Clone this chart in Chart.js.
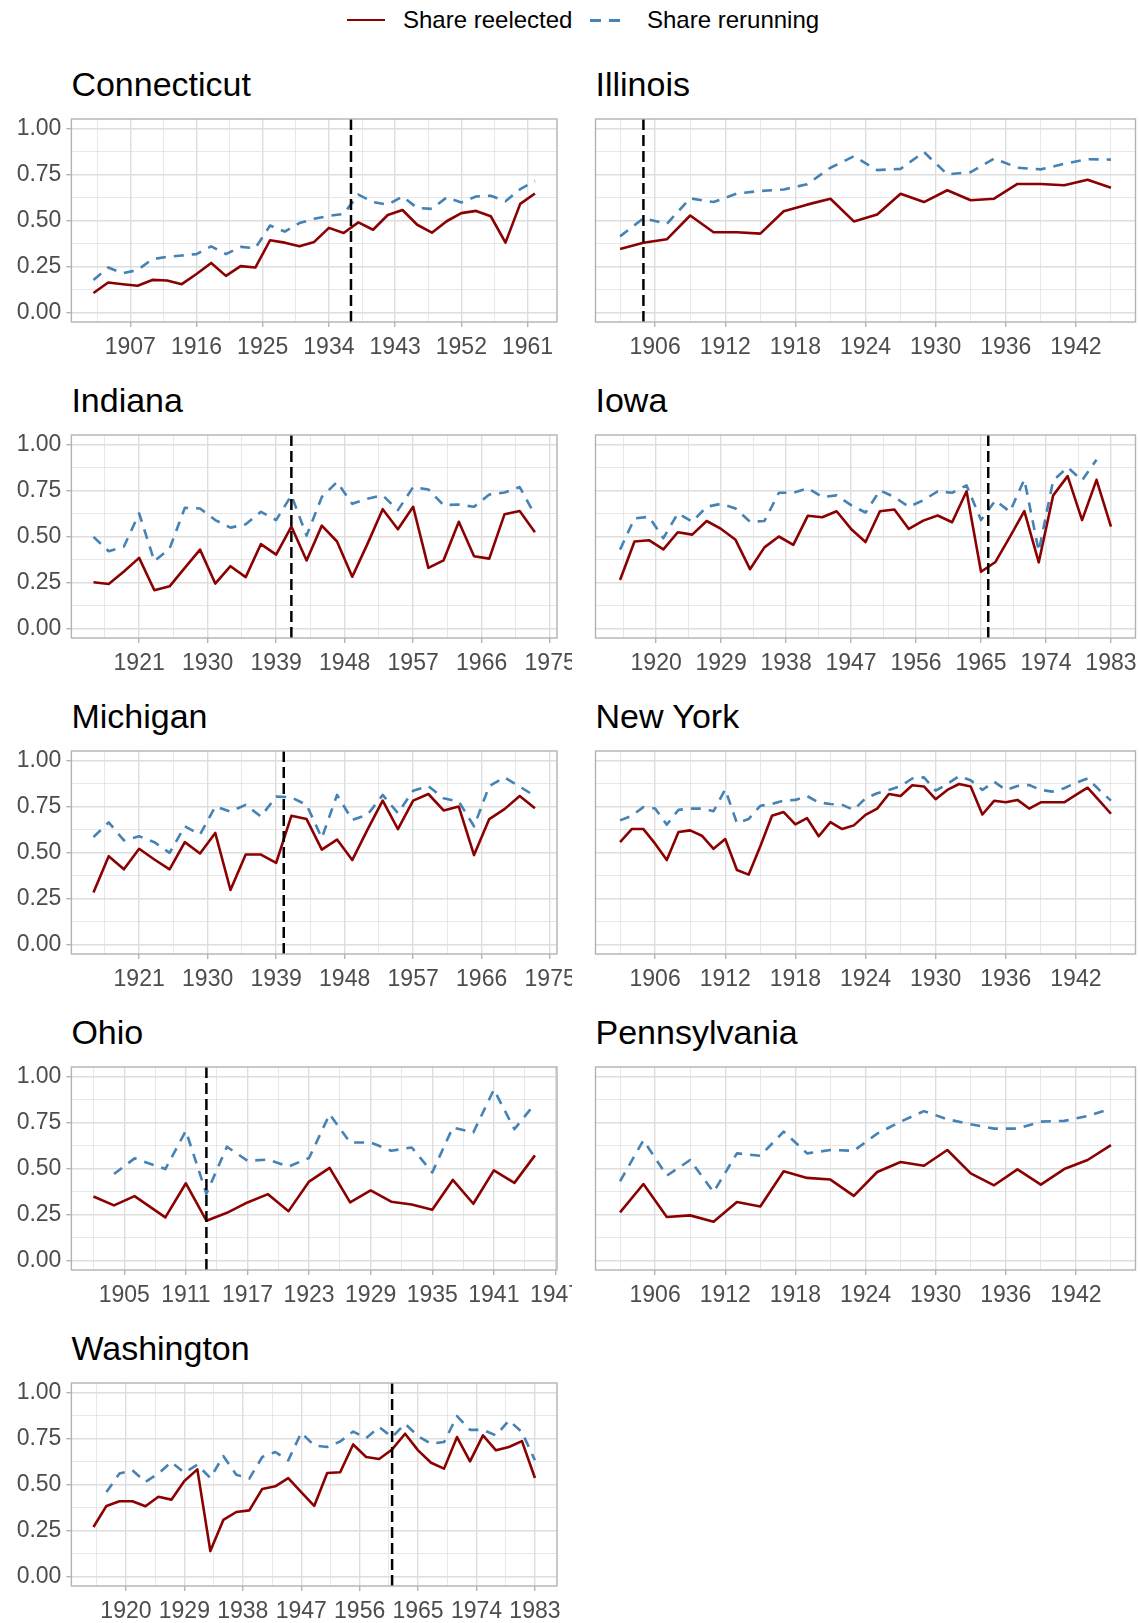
<!DOCTYPE html>
<html>
<head>
<meta charset="utf-8">
<script src="https://cdn.jsdelivr.net/npm/chart.js@4.4.1/dist/chart.umd.min.js"></script>
<style>
  body { margin: 0; background: #fff; width: 1140px; height: 1623px; position: relative; overflow: hidden;
         font-family: "Liberation Sans", Arial, sans-serif; }
  .panel { position: absolute; }
  .title { position: absolute; font-size: 34px; line-height: 34px; color: #000; white-space: nowrap; }
  .key { position: absolute; height: 0; }
  .ltext { position: absolute; font-size: 24px; line-height: 24px; color: #000; white-space: nowrap; }
</style>
</head>
<body>

<div class="key" style="left:347px; top:19px; width:38px; border-top:2.7px solid #8B0000;"></div>
<div class="ltext" style="left:403px; top:8px;">Share reelected</div>
<div class="key" style="left:590px; top:19px; width:38px; height:2.7px;
     background: repeating-linear-gradient(to right, #4682B4 0 11px, transparent 11px 19px);"></div>
<div class="ltext" style="left:647px; top:8px;">Share rerunning</div>

<script>
// ---- data ----
var ctYears = [1902,1904,1906,1908,1910,1912,1914,1916,1918,1920,1922,1924,1926,1928,1930,1932,1934,1936,1938,1940,1942,1944,1946,1948,1950,1952,1954,1956,1958,1960,1962];
var ctReelected = [0.107,0.164,0.155,0.146,0.178,0.175,0.155,0.21,0.27,0.20,0.253,0.245,0.393,0.38,0.36,0.384,0.46,0.432,0.49,0.45,0.53,0.557,0.477,0.434,0.496,0.54,0.552,0.523,0.38,0.59,0.646];
var ctRerunning = [0.178,0.245,0.214,0.232,0.29,0.303,0.31,0.318,0.36,0.318,0.357,0.35,0.473,0.44,0.486,0.509,0.525,0.536,0.64,0.60,0.586,0.63,0.568,0.563,0.625,0.598,0.63,0.634,0.604,0.67,0.714];
var ctTicks = [1907,1916,1925,1934,1943,1952,1961];

var ilYears = [1903,1905,1907,1909,1911,1913,1915,1917,1919,1921,1923,1925,1927,1929,1931,1933,1935,1937,1939,1941,1943,1945];
var ilReelected = [0.345,0.379,0.398,0.527,0.436,0.436,0.429,0.55,0.586,0.618,0.495,0.532,0.645,0.60,0.664,0.61,0.618,0.698,0.698,0.691,0.721,0.677];
var ilRerunning = [0.414,0.512,0.482,0.62,0.60,0.646,0.66,0.668,0.696,0.786,0.848,0.773,0.78,0.871,0.75,0.762,0.836,0.786,0.777,0.807,0.832,0.83];
var ilTicks = [1906,1912,1918,1924,1930,1936,1942];

var inYears = [1915,1917,1919,1921,1923,1925,1927,1929,1931,1933,1935,1937,1939,1941,1943,1945,1947,1949,1951,1953,1955,1957,1959,1961,1963,1965,1967,1969,1971,1973];
var inReelected = [0.252,0.243,0.31,0.384,0.209,0.23,0.33,0.429,0.245,0.339,0.28,0.459,0.402,0.554,0.37,0.559,0.473,0.282,0.46,0.648,0.539,0.661,0.33,0.371,0.58,0.393,0.38,0.62,0.638,0.523];
var inRerunning = [0.498,0.42,0.446,0.625,0.366,0.434,0.655,0.652,0.589,0.548,0.566,0.634,0.589,0.723,0.505,0.714,0.795,0.677,0.705,0.723,0.643,0.768,0.755,0.67,0.673,0.661,0.727,0.738,0.768,0.616];
var inTicks = [1921,1930,1939,1948,1957,1966,1975];

var iaYears = [1915,1917,1919,1921,1923,1925,1927,1929,1931,1933,1935,1937,1939,1941,1943,1945,1947,1949,1951,1953,1955,1957,1959,1961,1963,1965,1967,1969,1971,1973,1975,1977,1979,1981,1983];
var iaReelected = [0.264,0.473,0.48,0.43,0.523,0.51,0.584,0.541,0.482,0.323,0.441,0.5,0.455,0.612,0.604,0.637,0.541,0.47,0.637,0.646,0.541,0.586,0.614,0.577,0.745,0.309,0.362,0.498,0.637,0.36,0.723,0.827,0.589,0.807,0.554];
var iaRerunning = [0.429,0.598,0.607,0.491,0.625,0.58,0.661,0.677,0.652,0.58,0.584,0.737,0.737,0.762,0.714,0.723,0.67,0.63,0.75,0.714,0.661,0.696,0.745,0.737,0.777,0.589,0.696,0.634,0.809,0.42,0.804,0.875,0.804,0.916,null];
var iaTicks = [1920,1929,1938,1947,1956,1965,1974,1983];

var miYears = [1915,1917,1919,1921,1923,1925,1927,1929,1931,1933,1935,1937,1939,1941,1943,1945,1947,1949,1951,1953,1955,1957,1959,1961,1963,1965,1967,1969,1971,1973];
var miReelected = [0.283,0.48,0.409,0.52,0.462,0.409,0.556,0.495,0.606,0.297,0.489,0.489,0.444,0.699,0.681,0.516,0.57,0.459,0.624,0.781,0.627,0.781,0.817,0.728,0.749,0.486,0.681,0.735,0.806,0.74];
var miRerunning = [0.584,0.663,0.566,0.588,0.556,0.498,0.642,0.597,0.749,0.722,0.758,0.695,0.803,0.799,0.758,0.579,0.812,0.677,0.704,0.812,0.713,0.835,0.86,0.794,0.776,0.642,0.86,0.907,0.857,0.806];
var miTicks = [1921,1930,1939,1948,1957,1966,1975];

var nyYears = [1903,1904,1905,1906,1907,1908,1909,1910,1911,1912,1913,1914,1915,1916,1917,1918,1919,1920,1921,1922,1923,1924,1925,1926,1927,1928,1929,1930,1931,1932,1933,1934,1935,1936,1937,1938,1939,1940,1941,1942,1943,1944,1945];
var nyReelected = [0.556,0.627,0.627,0.548,0.459,0.611,0.62,0.591,0.52,0.573,0.405,0.38,0.534,0.699,0.719,0.652,0.686,0.588,0.665,0.627,0.647,0.704,0.738,0.817,0.806,0.864,0.858,0.789,0.839,0.871,0.858,0.706,0.78,0.772,0.785,0.738,0.772,0.772,0.772,0.812,0.851,0.781,0.71];
var nyRerunning = [0.674,0.699,0.746,0.738,0.651,0.731,0.738,0.738,0.724,0.842,0.659,0.681,0.753,0.763,0.781,0.785,0.806,0.771,0.763,0.758,0.731,0.794,0.821,0.839,0.86,0.901,0.907,0.835,0.871,0.914,0.892,0.839,0.884,0.839,0.86,0.866,0.839,0.83,0.848,0.878,0.901,0.839,0.781];
var nyTicks = [1906,1912,1918,1924,1930,1936,1942];

var ohYears = [1902,1904,1906,1909,1911,1913,1915,1917,1919,1921,1923,1925,1927,1929,1931,1933,1935,1937,1939,1941,1943,1945];
var ohReelected = [0.348,0.30,0.35,0.235,0.42,0.217,0.26,0.316,0.361,0.269,0.429,0.503,0.316,0.381,0.32,0.305,0.276,0.438,0.309,0.49,0.422,0.571];
var ohRerunning = [null,0.47,0.555,0.497,0.704,0.363,0.618,0.542,0.548,0.51,0.557,0.794,0.641,0.641,0.596,0.614,0.479,0.722,0.695,0.928,0.713,0.851];
var ohTicks = [1905,1911,1917,1923,1929,1935,1941,1947];

var paYears = [1903,1905,1907,1909,1911,1913,1915,1917,1919,1921,1923,1925,1927,1929,1931,1933,1935,1937,1939,1941,1943,1945];
var paReelected = [0.262,0.416,0.237,0.246,0.212,0.318,0.294,0.485,0.449,0.44,0.352,0.481,0.535,0.515,0.6,0.474,0.409,0.495,0.413,0.497,0.546,0.627];
var paRerunning = [0.431,0.653,0.461,0.546,0.372,0.582,0.569,0.70,0.582,0.6,0.596,0.689,0.754,0.811,0.767,0.74,0.716,0.716,0.754,0.758,0.785,0.824];
var paTicks = [1906,1912,1918,1924,1930,1936,1942];

var waYears = [1915,1917,1919,1921,1923,1925,1927,1929,1931,1933,1935,1937,1939,1941,1943,1945,1947,1949,1951,1953,1955,1957,1959,1961,1963,1965,1967,1969,1971,1973,1975,1977,1979,1981,1983];
var waReelected = [0.27,0.384,0.409,0.409,0.382,0.434,0.418,0.519,0.582,0.139,0.308,0.351,0.36,0.476,0.49,0.535,0.459,0.384,0.562,0.566,0.717,0.649,0.638,0.69,0.775,0.685,0.618,0.586,0.757,0.625,0.766,0.685,0.703,0.735,0.535];
var waRerunning = [null,0.459,0.559,0.577,0.514,0.559,0.622,0.564,0.607,0.535,0.654,0.553,0.532,0.649,0.676,0.631,0.78,0.712,0.703,0.733,0.787,0.751,0.811,0.757,0.829,0.762,0.721,0.73,0.87,0.796,0.796,0.766,0.847,0.784,0.631];
var waTicks = [1920,1929,1938,1947,1956,1965,1974,1983];

// year of the dashed vertical line (null = none)
var states = ['Connecticut','Illinois','Indiana','Iowa','Michigan','New York','Ohio','Pennsylvania','Washington'];
var cutYears = [1937, 1905, 1941, 1966, 1940, null, 1913, null, 1961];
var yTicks = [0, 0.25, 0.5, 0.75, 1];

// ---- layout ----
var rowTop = 119, rowPitch = 316.1, panelH = 203;
var colLeft = [0, 572], colWidth = [572, 568], axisW = [71.4, 23.5], padRight = [15, 4.5];
var labelFont = { family: '"Liberation Sans", Arial, sans-serif', size: 23 };

var panelBorder = {
  id: 'panelBorder',
  afterDatasetsDraw: function(chart){
    var a = chart.chartArea, c = chart.ctx;
    c.save();
    c.strokeStyle = '#B3B3B3';
    c.lineWidth = 1.4;
    c.strokeRect(a.left, a.top, a.right - a.left, a.bottom - a.top);
    c.restore();
  }
};

function withMinor(major, lo, hi){
  // major ticks plus the half-way minor grid lines
  var step = major[1] - major[0];
  var all = [];
  for (var v = major[0] - step / 2; v < hi; v += step / 2){
    if (v > lo && v < hi) all.push(v);
  }
  return all;
}

function toPoints(years, vals){
  return years.map(function(yr, i){ return {x: yr, y: vals[i]}; });
}

function makePanel(i, years, reelected, rerunning, ticks){
  var col = i % 2, row = Math.floor(i / 2);
  var top = rowTop + row * rowPitch;

  var span = years[years.length - 1] - years[0];
  var xmin = years[0] - span * 0.05, xmax = years[years.length - 1] + span * 0.05;
  var ymin = -0.05, ymax = 1.05;
  var xAll = withMinor(ticks, xmin, xmax);
  var yAll = withMinor(yTicks, ymin, ymax);

  var title = document.createElement('div');
  title.className = 'title';
  title.textContent = states[i];
  title.style.left = (colLeft[col] + axisW[col]) + 'px';
  title.style.top = (top - 52.4) + 'px';
  document.body.appendChild(title);

  var box = document.createElement('div');
  box.className = 'panel';
  box.style.left = colLeft[col] + 'px';
  box.style.top = (top - 12) + 'px';
  box.style.width = colWidth[col] + 'px';
  box.style.height = (12 + panelH + 40) + 'px';
  var cv = document.createElement('canvas');
  box.appendChild(cv);
  document.body.appendChild(box);

  var datasets = [];
  if (cutYears[i] !== null){
    datasets.push({
      data: [{x: cutYears[i], y: ymin}, {x: cutYears[i], y: ymax}],
      borderColor: '#000', borderWidth: 2.5, borderDash: [11, 5], pointRadius: 0
    });
  }
  datasets.push({
    label: 'Share rerunning', data: toPoints(years, rerunning),
    borderColor: '#4682B4', borderWidth: 2.6, borderDash: [10, 8], pointRadius: 0,
    borderJoinStyle: 'round', spanGaps: false
  });
  datasets.push({
    label: 'Share reelected', data: toPoints(years, reelected),
    borderColor: '#8B0000', borderWidth: 2.6, pointRadius: 0,
    borderJoinStyle: 'round', spanGaps: false
  });

  var isMajorX = function(v){ return ticks.indexOf(v) >= 0; };
  var isMajorY = function(v){ return yTicks.indexOf(v) >= 0; };

  new Chart(cv.getContext('2d'), {
    type: 'line',
    data: { datasets: datasets },
    options: {
      responsive: true,
      maintainAspectRatio: false,
      animation: false,
      layout: { padding: { top: 12, right: padRight[col], bottom: 0, left: 0 } },
      plugins: { legend: { display: false }, tooltip: { enabled: false } },
      elements: { line: { tension: 0 } },
      scales: {
        x: {
          type: 'linear', min: xmin, max: xmax,
          afterBuildTicks: function(s){ s.ticks = xAll.map(function(v){ return {value: v}; }); },
          afterFit: function(s){ s.height = 40; s.paddingLeft = 0; s.paddingRight = 0; },
          border: { display: false },
          grid: {
            color: '#DEDEDE',
            lineWidth: function(c){ return isMajorX(c.tick.value) ? 1.4 : 0.7; },
            tickColor: function(c){ return isMajorX(c.tick.value) ? '#B3B3B3' : 'rgba(0,0,0,0)'; },
            tickLength: 5, tickWidth: 1.4
          },
          ticks: {
            autoSkip: false, maxRotation: 0, padding: 7, color: '#4D4D4D', font: labelFont,
            callback: function(v){ return isMajorX(v) ? String(v) : ''; }
          }
        },
        y: {
          type: 'linear', min: ymin, max: ymax,
          afterBuildTicks: function(s){ s.ticks = yAll.map(function(v){ return {value: v}; }); },
          afterFit: function(s){ s.width = axisW[col]; s.paddingTop = 0; s.paddingBottom = 0; },
          border: { display: false },
          grid: {
            color: '#DEDEDE',
            lineWidth: function(c){ return isMajorY(c.tick.value) ? 1.4 : 0.7; },
            tickColor: function(c){ return isMajorY(c.tick.value) ? '#B3B3B3' : 'rgba(0,0,0,0)'; },
            drawTicks: col === 0, tickLength: 5, tickWidth: 1.4
          },
          ticks: {
            display: col === 0, autoSkip: false, padding: 5, color: '#4D4D4D', font: labelFont,
            callback: function(v){ return isMajorY(v) ? v.toFixed(2) : ''; }
          }
        }
      }
    },
    plugins: [panelBorder]
  });
}

makePanel(0, ctYears, ctReelected, ctRerunning, ctTicks);
makePanel(1, ilYears, ilReelected, ilRerunning, ilTicks);
makePanel(2, inYears, inReelected, inRerunning, inTicks);
makePanel(3, iaYears, iaReelected, iaRerunning, iaTicks);
makePanel(4, miYears, miReelected, miRerunning, miTicks);
makePanel(5, nyYears, nyReelected, nyRerunning, nyTicks);
makePanel(6, ohYears, ohReelected, ohRerunning, ohTicks);
makePanel(7, paYears, paReelected, paRerunning, paTicks);
makePanel(8, waYears, waReelected, waRerunning, waTicks);
</script>
</body>
</html>
